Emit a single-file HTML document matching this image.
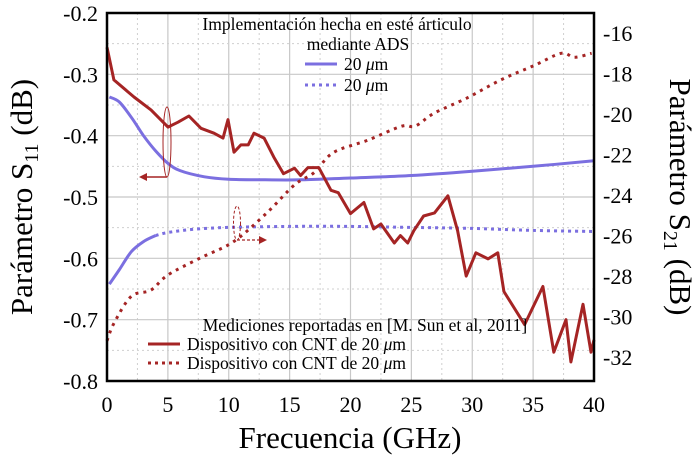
<!DOCTYPE html>
<html><head><meta charset="utf-8"><style>
html,body{margin:0;padding:0;background:#fff}
svg{display:block;font-family:"Liberation Serif",serif}
</style></head><body>
<svg id="c" width="696" height="468" viewBox="0 0 696 468">
<g id="grid"></g>
<g id="series"></g>
<rect x="107" y="13" width="487" height="368" fill="none" stroke="#000" stroke-width="2.5"/>
<g id="ticks" font-size="22"></g>
<text x="32" y="197" font-size="31" text-anchor="middle" transform="rotate(-90 32 197)">Parámetro S<tspan font-size="20" dy="6">11</tspan><tspan dy="-6"> (dB)</tspan></text>
<text x="670" y="197" font-size="31" text-anchor="middle" transform="rotate(90 670 197)">Parámetro S<tspan font-size="20" dy="6">21</tspan><tspan dy="-6"> (dB)</tspan></text>
<text x="350" y="448" font-size="31" text-anchor="middle">Frecuencia (GHz)</text>
<g font-size="17.5">
<text x="337" y="30" text-anchor="middle">Implementación hecha en esté árticulo</text>
<text x="358" y="50" text-anchor="middle">mediante ADS</text>
<line x1="305" y1="64" x2="337" y2="64" stroke="#7b6fe0" stroke-width="3"/>
<text x="344" y="70">20 <tspan font-style="italic">μ</tspan>m</text>
<line x1="305" y1="85" x2="337" y2="85" stroke="#7b6fe0" stroke-width="3" stroke-dasharray="3,4"/>
<text x="344" y="91">20 <tspan font-style="italic">μ</tspan>m</text>
</g>
<g font-size="17.5">
<text x="365" y="331" text-anchor="middle">Mediciones reportadas en [M. Sun et al, 2011]</text>
<line x1="148" y1="344" x2="180" y2="344" stroke="#a52424" stroke-width="3"/>
<text x="187" y="350">Dispositivo con CNT de 20 <tspan font-style="italic">μ</tspan>m</text>
<line x1="148" y1="363" x2="180" y2="363" stroke="#a52424" stroke-width="3" stroke-dasharray="3,4"/>
<text x="187" y="369">Dispositivo con CNT de 20 <tspan font-style="italic">μ</tspan>m</text>
</g>
<g>
<ellipse cx="167" cy="142" rx="4" ry="35" fill="none" stroke="#a52424" stroke-width="1"/>
<line x1="167" y1="177" x2="145" y2="177" stroke="#a52424" stroke-width="1.5"/>
<polygon points="139,177 147,173 147,181" fill="#a52424"/>
<ellipse cx="237" cy="223" rx="3.5" ry="17" fill="none" stroke="#a52424" stroke-width="1" stroke-dasharray="3,2"/>
<line x1="237" y1="240" x2="260" y2="240" stroke="#a52424" stroke-width="1.2" stroke-dasharray="3,2"/>
<polygon points="267,240 259,236 259,244" fill="#a52424"/>
</g>
</svg>
<script>
const xTicks=[0,5,10,15,20,25,30,35,40];
const yLeftTicks=[-0.2,-0.3,-0.4,-0.5,-0.6,-0.7,-0.8];
const yRightTicks=[-16,-18,-20,-22,-24,-26,-28,-30,-32];
const measS11F=[0,0.57,2.22,3.61,5.01,5.83,6.73,7.72,8.79,9.53,9.94,10.43,11.0,11.6,12.07,12.9,13.7,14.5,15.4,15.9,16.5,17.4,18.4,19.0,20.0,21.1,21.9,22.5,23.6,24.1,24.7,25.2,26.0,26.9,28.0,28.8,29.5,30.3,31.3,32.1,32.6,34.3,35.8,36.7,37.7,38.1,39.1,39.75,40];
const measS11=[-0.256,-0.309,-0.337,-0.358,-0.386,-0.378,-0.368,-0.388,-0.396,-0.404,-0.374,-0.427,-0.415,-0.415,-0.396,-0.404,-0.435,-0.462,-0.453,-0.465,-0.452,-0.452,-0.489,-0.493,-0.527,-0.509,-0.552,-0.544,-0.575,-0.563,-0.575,-0.555,-0.531,-0.526,-0.498,-0.555,-0.629,-0.591,-0.601,-0.591,-0.654,-0.708,-0.646,-0.753,-0.700,-0.769,-0.675,-0.753,-0.733];
const measS21F=[0,0.6,2,3.6,5,7.7,10.4,13.1,15.4,17.0,18.6,21.4,24.2,25.3,26.9,29.6,32.4,35.1,37.3,38.4,39.8];
const measS21=[-31.2,-30.3,-29.0,-28.7,-27.95,-27.1,-26.3,-24.9,-23.5,-22.9,-21.9,-21.3,-20.6,-20.6,-19.95,-19.2,-18.3,-17.6,-17.0,-17.2,-17.0];
const adsS11F=[0.2,1,2,3,4,5,6,8,10,13,16,20,25,30,35,40];
const adsS11=[-0.337,-0.345,-0.37,-0.40,-0.425,-0.445,-0.457,-0.467,-0.471,-0.472,-0.472,-0.469,-0.465,-0.458,-0.45,-0.441];
const adsS21F=[0.2,1,2,3,4,5,7,10,15,20,25,30,35,40];
const adsS21=[-28.4,-27.7,-26.8,-26.3,-26.0,-25.85,-25.7,-25.6,-25.55,-25.55,-25.6,-25.65,-25.75,-25.8];

const X0=107,X1=594,Y0=13,Y1=381;
const xs=f=>X0+(f/40)*(X1-X0);
const yl=v=>Y0+(-0.2-v)/0.6*(Y1-Y0);
const yr=v=>33+(-16-v)/16*(357-33);
const NS='http://www.w3.org/2000/svg';
function mk(tag,attrs,parent){const e=document.createElementNS(NS,tag);for(const k in attrs)e.setAttribute(k,attrs[k]);parent.appendChild(e);return e;}
const grid=document.getElementById('grid'),ticks=document.getElementById('ticks'),series=document.getElementById('series');
for(let f=0;f<=40;f+=2.5){const major=f%5===0;const l=mk('line',{x1:xs(f),x2:xs(f),y1:Y0,y2:Y1,stroke:major?'#c8c8c8':'#cfcfcf','stroke-width':major?1.2:1,'stroke-dasharray':major?'':'2,3'},grid);

}
for(let v=-0.2;v>=-0.801;v-=0.05){const major=Math.abs(Math.round(v*100))%10===0;const l=mk('line',{x1:X0,x2:X1,y1:yl(v),y2:yl(v),stroke:major?'#c8c8c8':'#cfcfcf','stroke-width':major?1.2:1,'stroke-dasharray':major?'':'2,3'},grid);

}
xTicks.forEach(t=>{const e=mk('text',{x:xs(t),y:412,'text-anchor':'middle'},ticks);e.textContent=t;

});
yLeftTicks.forEach(t=>{const e=mk('text',{x:98,y:yl(t)+8,'text-anchor':'end'},ticks);e.textContent=t.toFixed(1);

});
yRightTicks.forEach(t=>{const e=mk('text',{x:603,y:yr(t)+8,'text-anchor':'start'},ticks);e.textContent=t;

});
function path(F,V,yf){return F.map((f,i)=>(i?'L':'M')+xs(f).toFixed(1)+','+yf(V[i]).toFixed(1)).join('');}
function smooth(F,V,yf){const P=F.map((f,i)=>[xs(f),yf(V[i])]);let d='M'+P[0][0].toFixed(1)+','+P[0][1].toFixed(1);
for(let i=0;i<P.length-1;i++){const p0=P[i-1]||P[i],p1=P[i],p2=P[i+1],p3=P[i+2]||p2;
const c1=[p1[0]+(p2[0]-p0[0])/6,p1[1]+(p2[1]-p0[1])/6],c2=[p2[0]-(p3[0]-p1[0])/6,p2[1]-(p3[1]-p1[1])/6];
d+='C'+c1.map(n=>n.toFixed(1))+' '+c2.map(n=>n.toFixed(1))+' '+p2.map(n=>n.toFixed(1));}return d;}
let p;
p=mk('path',{d:smooth(adsS11F,adsS11,yl),fill:'none',stroke:'#7b6fe0','stroke-width':3},series);


p=mk('path',{d:smooth(adsS21F.slice(0,5),adsS21.slice(0,5),yr),fill:'none',stroke:'#7b6fe0','stroke-width':3},series);


p=mk('path',{d:smooth(adsS21F.slice(4),adsS21.slice(4),yr),fill:'none',stroke:'#7b6fe0','stroke-width':3,'stroke-dasharray':'3,4'},series);


p=mk('path',{d:smooth(measS21F,measS21,yr),fill:'none',stroke:'#a52424','stroke-width':3,'stroke-dasharray':'3,5'},series);


p=mk('path',{d:path(measS11F,measS11,yl),fill:'none',stroke:'#a52424','stroke-width':3,'stroke-linejoin':'round'},series);


</script>
</body></html>
